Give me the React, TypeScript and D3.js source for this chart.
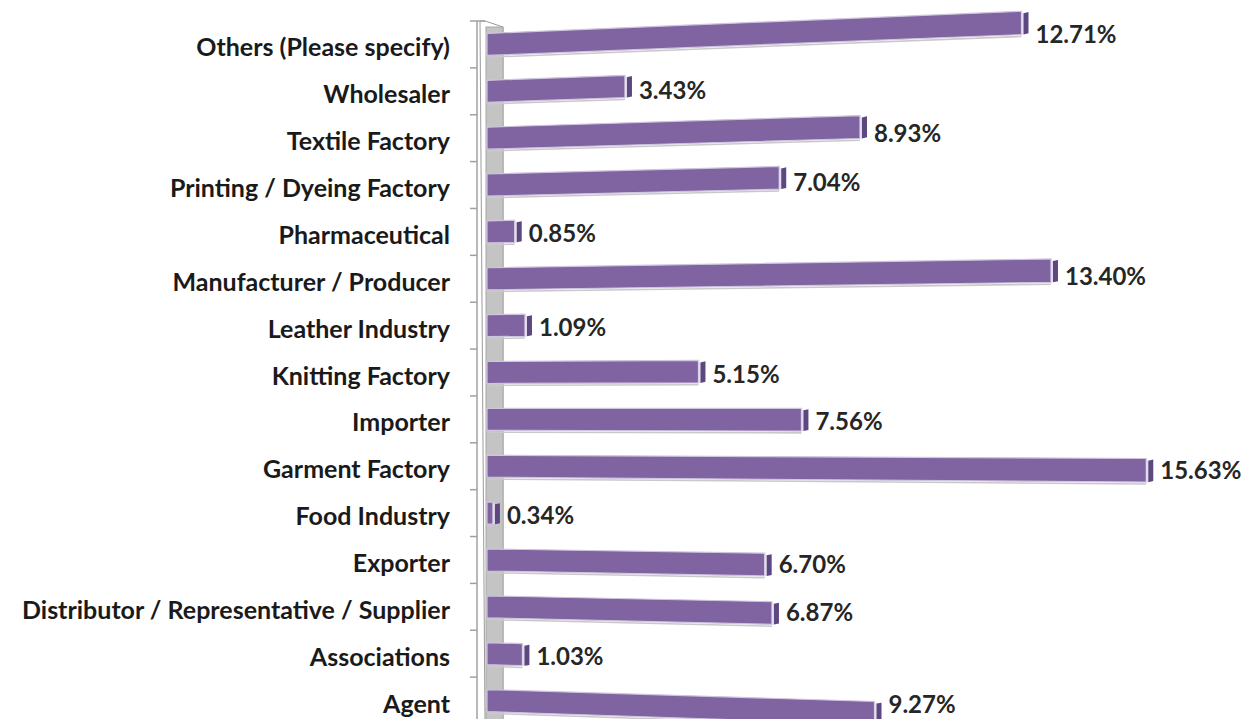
import React from "react";
import * as d3 from "d3";

const categories = [
  "Others (Please specify)",
  "Wholesaler",
  "Textile Factory",
  "Printing / Dyeing Factory",
  "Pharmaceutical",
  "Manufacturer / Producer",
  "Leather Industry",
  "Knitting Factory",
  "Importer",
  "Garment Factory",
  "Food Industry",
  "Exporter",
  "Distributor / Representative / Supplier",
  "Associations",
  "Agent",
];
const values = [12.71, 3.43, 8.93, 7.04, 0.85, 13.4, 1.09, 5.15, 7.56, 15.63, 0.34, 6.7, 6.87, 1.03, 9.27];

const W = 1255;
const H = 719;
const X0 = 487; // bar base
const CY = 410; // perspective centre
const K = 1.1e-4; // perspective strength

function P(x: number, y: number, k = K): [number, number] {
  return [x, CY + (y - CY) * (1 + k * (x - X0))];
}
function poly(pts: [number, number][]) {
  return pts.map((p) => p.join(",")).join(" ");
}

export default function App() {
  const x = d3.scaleLinear().domain([0, 16]).range([485.4, 485.4 + 42.73 * 16]);
  const y = d3
    .scaleBand<string>()
    .domain(categories)
    .range([21, 724])
    .paddingInner(0.53)
    .paddingOuter(0.265);
  const step = y.step();
  const bw = y.bandwidth();
  const boundaries = d3.range(0, categories.length + 1).map((i) => 21 + i * step);

  return (
    <svg
      width={W}
      height={H}
      style={{ position: "absolute", left: 0, top: 0, background: "#fff" }}
      fontFamily="Lato, 'Open Sans', sans-serif"
    >
      {/* back wall */}
      <polygon
        points={poly([
          [480, 21],
          [485, 21],
          [503, 27],
          [503, 724],
          [485, 724],
        ])}
        fill="#ffffff"
        stroke="#9a9a9a"
        strokeWidth={1}
      />
      <rect x={486} y={27} width={17} height={700} fill="#c4c4c4" stroke="#a8a8a8" strokeWidth={1} />
      {/* axis */}
      <line x1={477} x2={477} y1={21} y2={724} stroke="#a0a0a0" strokeWidth={1.5} />
      <line x1={470} x2={485} y1={21} y2={21} stroke="#a0a0a0" strokeWidth={1.5} />
      {boundaries.slice(1).map((b, i) => (
        <line key={i} x1={470} x2={477} y1={b} y2={b} stroke="#a0a0a0" strokeWidth={1.5} />
      ))}
      {categories.map((c, i) => {
        const v = values[i];
        const top = y(c)!;
        const bot = top + bw;
        const end = x(v);
        const fEnd = Math.max(X0 + 4, end - 7);
        const sStart = Math.max(X0 + 7, end - 5);
        const sEnd = Math.max(sStart + 4, end);
        const front = poly([P(X0, top), P(fEnd, top), P(fEnd, bot), P(X0, bot)]);
        const side = poly([P(sStart, top + 2), P(sEnd, top + 1), P(sEnd, bot - 1), P(sStart, bot)]);
        const gap = poly([P(fEnd, top), P(sStart, top + 2), P(sStart, bot), P(fEnd, bot)]);
        const shadow = poly([P(X0, bot + 1), P(fEnd, bot + 1), P(fEnd, bot + 2.5), P(X0, bot + 2.5)]);
        const cMid = top + bw / 2;
        const [lx, ly] = P(sEnd, cMid, K * 0.55);
        const labelY = Math.min(ly + 1, H - 16);
        return (
          <g key={c}>
            <polygon points={shadow} fill="#c9c9c9" />
            <polygon points={front} fill="#8064a2" stroke="#cfc5de" strokeWidth={1.2} />
            <polygon points={gap} fill="#e4ddef" />
            <polygon points={side} fill="#5d4780" />
            <text
              x={lx + 7}
              y={labelY}
              dominantBaseline="central"
              fontSize={24}
              fontWeight="bold"
              fill="#262626"
            >
              {v.toFixed(2) + "%"}
            </text>
            <text
              x={450}
              y={cMid + 2}
              textAnchor="end"
              dominantBaseline="central"
              fontSize={25}
              fontWeight="bold"
              fill="#1a1a1a"
            >
              {c}
            </text>
          </g>
        );
      })}
    </svg>
  );
}
